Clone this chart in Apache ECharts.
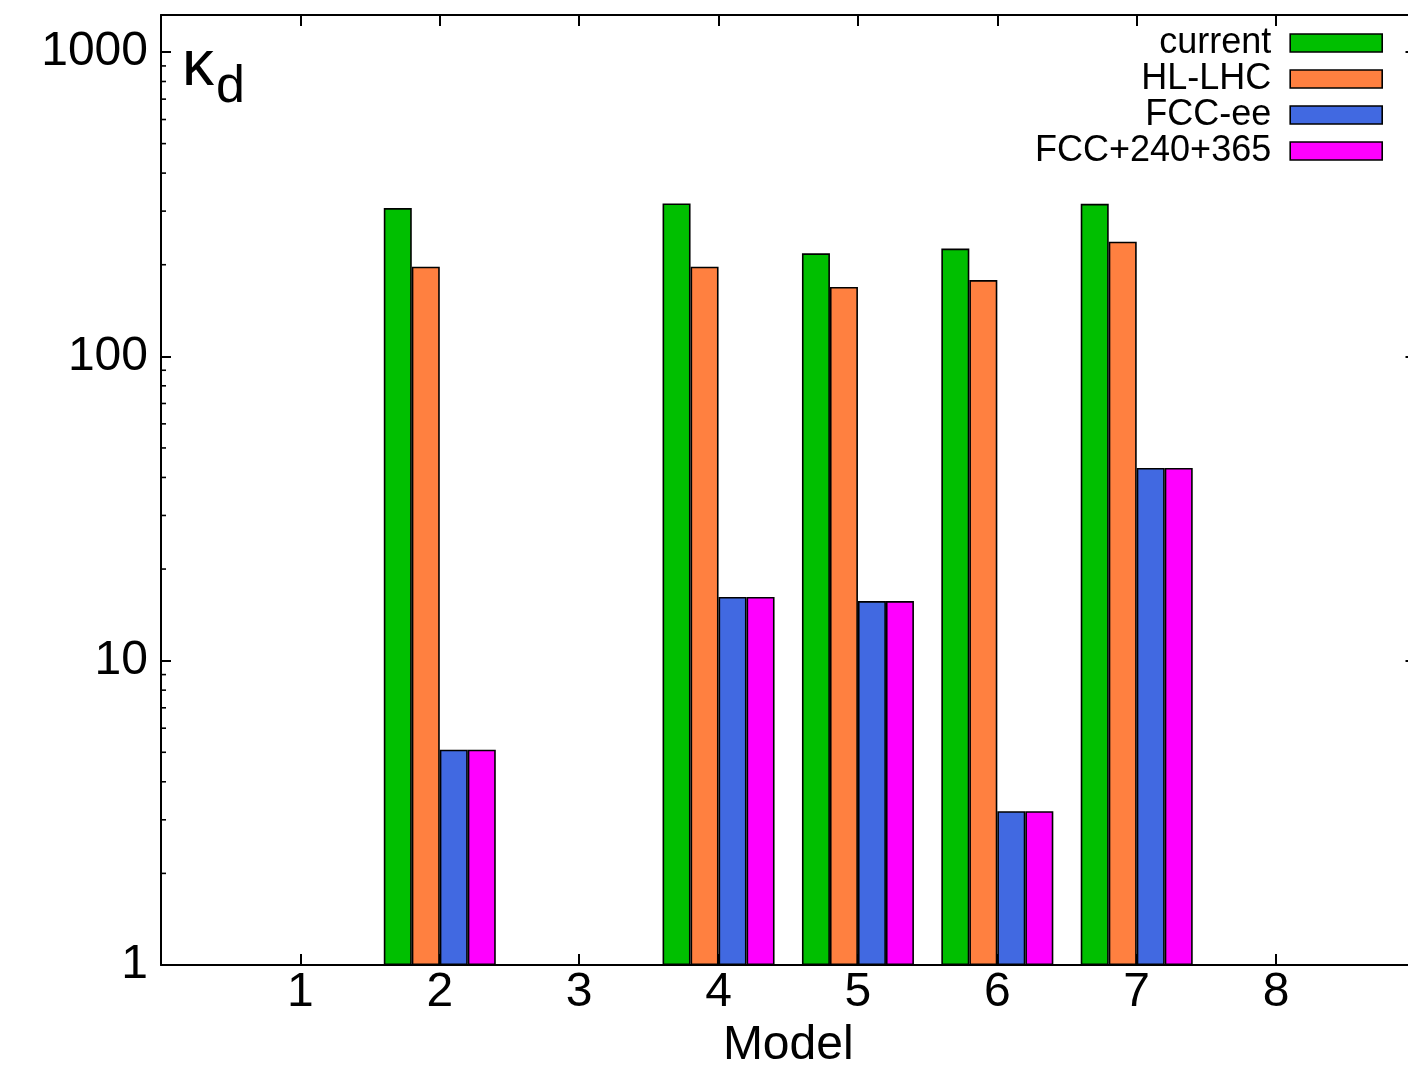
<!DOCTYPE html>
<html>
<head>
<meta charset="utf-8">
<script src="https://cdn.jsdelivr.net/npm/echarts@6/dist/echarts.min.js"></script>
<style>
  html, body { margin: 0; padding: 0; overflow: hidden; background: #fff; }
  #chart { width: 1420px; height: 1068px; }
</style>
</head>
<body>
<div id="chart"></div>
<script>
// Models on the x axis
const models = ['1', '2', '3', '4', '5', '6', '7', '8'];
// kappa_d reach for each scenario (null = no bar)
const current  = [null, 307, null, 318, 218, 226, 317, null];
const hlLhc    = [null, 197, null, 197, 169, 178, 238, null];
const fccEe    = [null, 5.1, null, 16.2, 15.7, 3.2, 43, null];
const fccAll   = [null, 5.1, null, 16.2, 15.7, 3.2, 43, null];
const seriesNames = ['current', 'HL-LHC', 'FCC-ee', 'FCC+240+365'];
const seriesColors = ['#00bf00', '#ff8040', '#4169e1', '#ff00ff'];
// y axis tick labels (log scale)
const yTickLabels = ['1', '10', '100', '1000'];
const yMin = 1, yMax = 1323;

// pad with an empty slot at each end so the models sit one unit in from the frame
const cats = ['0', ...models, '9'];
const pad = arr => [null, ...arr, null];

// minor log ticks 2..9 in each decade
const minorVals = [];
[1, 10, 100].forEach(d => { for (let m = 2; m <= 9; m++) minorVals.push(d * m); });

const font = 'Liberation Sans, Arial, Helvetica, sans-serif';
const chart = echarts.init(document.getElementById('chart'), null, { renderer: 'canvas' });

const isDecade = v => Math.abs(Math.log10(v) - Math.round(Math.log10(v))) < 1e-6;

const barSeries = [current, hlLhc, fccEe, fccAll].map((vals, i) => ({
  name: seriesNames[i],
  type: 'bar',
  xAxisIndex: 0,
  yAxisIndex: 0,
  data: pad(vals),
  barWidth: 28,
  barGap: '0%',
  itemStyle: { color: seriesColors[i], borderColor: '#000', borderWidth: 1.6 },
  z: 2
}));

chart.setOption({
  animation: false,
  backgroundColor: '#fff',
  grid: { left: 161, right: 4.5, top: 15, bottom: 103, containLabel: false, outerBoundsMode: 'none' },
  legend: {
    data: seriesNames,
    orient: 'vertical',
    right: 32,
    top: 20,
    align: 'right',
    icon: 'rect',
    itemWidth: 92,
    itemHeight: 18,
    itemGap: 0,
    itemStyle: { borderColor: '#000', borderWidth: 1.6 },
    textStyle: { fontFamily: font, fontSize: 36, color: '#000', lineHeight: 36, padding: [0, 14, 0, 0] }
  },
  xAxis: [{
    type: 'category',
    data: cats,
    boundaryGap: false,
    position: 'bottom',
    name: 'Model',
    nameLocation: 'middle',
    nameGap: 56,
    nameTextStyle: { fontFamily: font, fontSize: 48, color: '#000' },
    axisLine: { show: true, lineStyle: { color: '#000', width: 2 } },
    axisTick: { show: true, inside: true, length: 11, lineStyle: { color: '#000', width: 2 },
                interval: (idx) => idx > 0 && idx < cats.length - 1 },
    axisLabel: { fontFamily: font, fontSize: 48, color: '#000', margin: 4,
                 interval: 0,
                 formatter: (v, idx) => (idx > 0 && idx < cats.length - 1) ? v : '' },
    splitLine: { show: false }
  }, {
    type: 'category',
    data: cats,
    boundaryGap: false,
    position: 'top',
    axisLine: { show: true, lineStyle: { color: '#000', width: 2 } },
    axisTick: { show: true, inside: true, length: 11, lineStyle: { color: '#000', width: 2 },
                interval: (idx) => idx > 0 && idx < cats.length - 1 },
    axisLabel: { show: false },
    splitLine: { show: false }
  }],
  yAxis: [{
    type: 'log',
    logBase: 10,
    min: yMin,
    max: yMax,
    position: 'left',
    axisLine: { show: true, lineStyle: { color: '#000', width: 2 } },
    axisTick: { show: true, inside: true, length: 10, lineStyle: { color: '#000', width: 2 } },
    axisLabel: { fontFamily: font, fontSize: 48, color: '#000', margin: 13,
                 showMaxLabel: true, padding: [4, 0, 0, 0],
                 formatter: v => {
                   if (!isDecade(v)) return '';
                   const s = String(Math.round(v));
                   return yTickLabels.includes(s) ? s : '';
                 } },
    splitLine: { show: false }
  }, {
    type: 'log',
    logBase: 10,
    min: yMin,
    max: yMax,
    position: 'right',
    axisLine: { show: true, lineStyle: { color: '#000', width: 2 } },
    axisTick: { show: true, inside: true, length: 10, lineStyle: { color: '#000', width: 2 } },
    axisLabel: { show: false },
    splitLine: { show: false }
  }],
  graphic: [
    { type: 'text', left: 182, top: 35, z: 10,
      style: { text: 'κ', font: '64px ' + font, fill: '#000' } },
    { type: 'text', left: 216, top: 62, z: 10,
      style: { text: 'd', font: '52px ' + font, fill: '#000' } }
  ],
  series: [
    ...barSeries,
    {
      // minor log-scale ticks on both vertical frame edges
      type: 'custom',
      xAxisIndex: 0,
      yAxisIndex: 0,
      silent: true,
      z: 5,
      data: minorVals.map(v => [0, v]),
      renderItem: (params, api) => {
        const v = api.value(1);
        const pl = api.coord([0, v]);
        const pr = api.coord([cats.length - 1, v]);
        const st = { stroke: '#000', lineWidth: 1.6 };
        return {
          type: 'group',
          children: [
            { type: 'line', shape: { x1: pl[0], y1: pl[1], x2: pl[0] + 5, y2: pl[1] }, style: st },
            { type: 'line', shape: { x1: pr[0], y1: pr[1], x2: pr[0] - 5, y2: pr[1] }, style: st }
          ]
        };
      }
    }
  ]
});
</script>
</body>
</html>
